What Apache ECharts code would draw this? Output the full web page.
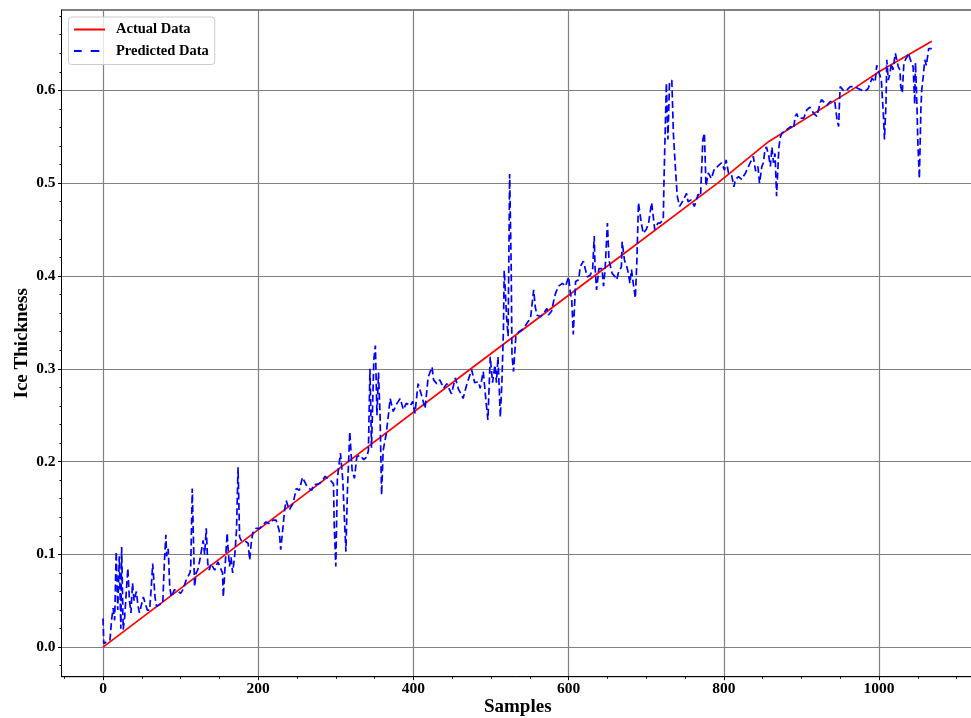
<!DOCTYPE html>
<html>
<head>
<meta charset="utf-8">
<script src="https://cdn.jsdelivr.net/npm/echarts@6/dist/echarts.min.js"></script>
<style>
  html, body { margin: 0; padding: 0; background: #ffffff; }
  #chart { width: 971px; height: 718px; }
</style>
</head>
<body>
<div id="chart"></div>
<script>
// Measured ice thickness, sorted ascending (sample index -> value)
const actualSamples = [0, 158, 316, 474, 633, 792, 858, 964, 1000, 1068];
const actualValues  = [0, 0.1, 0.2, 0.3, 0.4, 0.5, 0.545, 0.6, 0.62, 0.653];

// Model prediction for the same samples
const predSamples = [
  0, 1, 5, 9, 11, 13, 15, 17, 19, 21, 23, 24, 26, 28, 30, 32, 34, 36, 38, 40,
  43, 45, 47, 52, 54, 57, 60, 62, 64, 67, 69, 73, 77, 79, 81, 82, 84, 86, 88, 92,
  97, 100, 103, 107, 112, 113, 115, 118, 120, 122, 125, 129, 131, 133, 135, 137, 139, 144, 148, 150,
  154, 155, 157, 160, 161, 163, 165, 167, 170, 172, 174, 176, 178, 182, 187, 189, 191, 193, 197, 202,
  206, 210, 215, 219, 223, 225, 227, 229, 232, 234, 236, 240, 245, 249, 253, 257, 263, 269, 271, 278,
  282, 286, 293, 295, 297, 298, 300, 302, 306, 309, 311, 313, 315, 318, 321, 324, 327, 331, 336, 340,
  342, 344, 346, 349, 351, 353, 355, 357, 359, 361, 365, 368, 370, 374, 379, 383, 387, 391, 396, 399,
  402, 406, 411, 415, 419, 424, 426, 430, 434, 439, 443, 449, 454, 458, 462, 464, 469, 475, 479, 484,
  486, 490, 492, 494, 496, 499, 502, 505, 507, 509, 512, 514, 516, 517, 518, 520, 522, 524, 526, 527,
  529, 532, 536, 540, 544, 551, 555, 557, 559, 564, 568, 572, 574, 578, 581, 583, 587, 592, 596, 600,
  602, 604, 606, 609, 613, 615, 619, 624, 628, 631, 633, 634, 636, 639, 643, 645, 647, 650, 652, 656,
  660, 662, 664, 668, 669, 672, 675, 677, 679, 681, 683, 686, 688, 690, 693, 696, 700, 703, 707, 711,
  715, 718, 722, 723, 726, 728, 730, 733, 735, 737, 740, 743, 748, 752, 754, 758, 762, 767, 770, 773,
  775, 777, 780, 784, 788, 792, 797, 801, 803, 806, 810, 813, 815, 819, 821, 823, 825, 828, 830, 834,
  838, 841, 844, 846, 849, 851, 853, 855, 858, 860, 862, 864, 866, 868, 871, 873, 875, 879, 886, 890,
  892, 894, 896, 903, 907, 911, 916, 920, 924, 926, 933, 937, 939, 943, 946, 948, 949, 950, 954, 958,
  963, 965, 969, 973, 978, 982, 986, 991, 995, 997, 999, 1003, 1006, 1007, 1009, 1010, 1012, 1014, 1016, 1018,
  1021, 1023, 1025, 1027, 1028, 1030, 1032, 1034, 1036, 1038, 1040, 1042, 1044, 1046, 1047, 1049, 1050, 1052, 1054, 1055,
  1057, 1059, 1061, 1064, 1066, 1068
];
const predValues = [
  0.031, 0.004, 0.006, 0.008, 0.029, 0.042, 0.029, 0.103, 0.040, 0.098, 0.020, 0.108, 0.019, 0.033, 0.060, 0.085, 0.051, 0.037, 0.069, 0.050,
  0.060, 0.045, 0.037, 0.054, 0.054, 0.040, 0.040, 0.062, 0.090, 0.054, 0.044, 0.046, 0.047, 0.090, 0.121, 0.098, 0.106, 0.065, 0.054, 0.062,
  0.060, 0.058, 0.062, 0.072, 0.080, 0.085, 0.171, 0.065, 0.080, 0.083, 0.095, 0.115, 0.100, 0.128, 0.090, 0.083, 0.090, 0.083, 0.092, 0.090,
  0.080, 0.054, 0.083, 0.123, 0.108, 0.087, 0.097, 0.080, 0.101, 0.126, 0.194, 0.119, 0.115, 0.115, 0.112, 0.094, 0.112, 0.123, 0.128, 0.128,
  0.132, 0.135, 0.133, 0.137, 0.137, 0.139, 0.126, 0.105, 0.130, 0.148, 0.158, 0.148, 0.155, 0.171, 0.169, 0.183, 0.173, 0.169, 0.175, 0.176,
  0.178, 0.184, 0.180, 0.182, 0.176, 0.130, 0.087, 0.182, 0.209, 0.180, 0.140, 0.103, 0.170, 0.232, 0.191, 0.182, 0.205, 0.207, 0.202, 0.205,
  0.212, 0.300, 0.215, 0.310, 0.325, 0.250, 0.296, 0.250, 0.164, 0.212, 0.230, 0.252, 0.268, 0.254, 0.263, 0.268, 0.256, 0.263, 0.260, 0.265,
  0.252, 0.284, 0.270, 0.257, 0.291, 0.302, 0.288, 0.284, 0.288, 0.279, 0.284, 0.273, 0.290, 0.278, 0.272, 0.268, 0.284, 0.299, 0.285, 0.286,
  0.279, 0.297, 0.279, 0.261, 0.245, 0.313, 0.285, 0.304, 0.285, 0.313, 0.248, 0.285, 0.342, 0.406, 0.392, 0.356, 0.335, 0.510, 0.410, 0.315,
  0.297, 0.335, 0.340, 0.342, 0.346, 0.355, 0.385, 0.367, 0.358, 0.356, 0.360, 0.365, 0.358, 0.362, 0.374, 0.381, 0.389, 0.392, 0.389, 0.399,
  0.383, 0.374, 0.337, 0.394, 0.396, 0.410, 0.416, 0.399, 0.401, 0.408, 0.443, 0.410, 0.385, 0.408, 0.408, 0.389, 0.407, 0.457, 0.417, 0.403,
  0.399, 0.396, 0.403, 0.410, 0.437, 0.417, 0.410, 0.403, 0.392, 0.407, 0.394, 0.376, 0.417, 0.479, 0.461, 0.446, 0.450, 0.457, 0.479, 0.450,
  0.457, 0.457, 0.461, 0.507, 0.608, 0.547, 0.608, 0.611, 0.554, 0.525, 0.486, 0.475, 0.482, 0.489, 0.480, 0.482, 0.475, 0.488, 0.486, 0.547,
  0.554, 0.497, 0.511, 0.505, 0.516, 0.518, 0.522, 0.514, 0.525, 0.511, 0.509, 0.496, 0.504, 0.507, 0.505, 0.504, 0.507, 0.511, 0.509, 0.522,
  0.529, 0.513, 0.518, 0.500, 0.518, 0.522, 0.536, 0.539, 0.529, 0.518, 0.539, 0.522, 0.532, 0.486, 0.539, 0.550, 0.554, 0.556, 0.561, 0.559,
  0.572, 0.575, 0.570, 0.570, 0.579, 0.582, 0.575, 0.572, 0.586, 0.590, 0.584, 0.588, 0.586, 0.588, 0.568, 0.561, 0.586, 0.604, 0.600, 0.600,
  0.604, 0.606, 0.604, 0.602, 0.600, 0.599, 0.602, 0.613, 0.609, 0.627, 0.622, 0.611, 0.568, 0.547, 0.586, 0.633, 0.611, 0.618, 0.629, 0.622,
  0.640, 0.642, 0.625, 0.622, 0.604, 0.597, 0.629, 0.633, 0.636, 0.640, 0.634, 0.636, 0.625, 0.585, 0.630, 0.580, 0.545, 0.505, 0.580, 0.600,
  0.615, 0.633, 0.627, 0.645, 0.647, 0.645
];

// Tick values
const xMajorTicks = [0, 200, 400, 600, 800, 1000];
const yMajorTicks = [0.0, 0.1, 0.2, 0.3, 0.4, 0.5, 0.6];

const xMinorTicks = [];
for (let v = -50; v <= 1100; v += 50) {
  if (v % 200 !== 0) xMinorTicks.push(v);
}
const yMinorTicks = [];
for (let i = -1; i <= 34; i++) {
  if (i % 5 !== 0) yMinorTicks.push(+(i * 0.02).toFixed(2));
}

const FONT = 'Liberation Serif';
const X_MIN = -53.5, X_MAX = 1122.4;
const Y_MIN = -0.0318, Y_MAX = 0.6866;

const tickFont = { fontFamily: FONT, fontWeight: 'bold', fontSize: 15.5, color: '#000000' };
const titleFont = { fontFamily: FONT, fontWeight: 'bold', fontSize: 19, color: '#000000' };
const gridLine = { show: true, lineStyle: { color: '#808080', width: 1.2 } };
const blackLine = { color: '#000000', width: 1 };

// Legend keys drawn as short line samples inside a 31x14 box
const solidKey  = 'path://M0,0L0,0ZM31,14L31,14ZM0,6.1H31V7.9H0Z';
const dashedKey = 'path://M0,0L0,0ZM31,14L31,14ZM0,6.1H7.7V7.9H0ZM16.7,6.1H25.3V7.9H16.7Z';

const chart = echarts.init(document.getElementById('chart'), null, { renderer: 'canvas' });

chart.setOption({
  animation: false,
  backgroundColor: '#ffffff',
  grid: {
    left: 61.5, right: -3, top: 10, bottom: 41.3,
    outerBoundsMode: 'none',
    containLabel: false,
    show: true, borderColor: '#000000', borderWidth: 1, backgroundColor: 'transparent'
  },
  legend: {
    orient: 'vertical',
    left: 68.5, top: 17,
    padding: [5, 6, 6, 5.5],
    itemGap: 6.5,
    itemWidth: 31, itemHeight: 14,
    backgroundColor: 'rgba(255,255,255,0.8)',
    borderColor: '#cccccc', borderWidth: 1, borderRadius: 3,
    textStyle: { fontFamily: FONT, fontWeight: 'bold', fontSize: 14.5, color: '#000000', padding: [0, 0, 0, 6] },
    data: [
      { name: 'Actual Data', icon: solidKey, itemStyle: { color: '#ff0000' } },
      { name: 'Predicted Data', icon: dashedKey, itemStyle: { color: '#0000ff' } }
    ]
  },
  xAxis: [
    {
      type: 'value', min: X_MIN, max: X_MAX, position: 'bottom',
      axisLine: { show: true, onZero: false, lineStyle: blackLine },
      axisTick: { show: true, inside: false, length: 3.5, customValues: xMajorTicks, lineStyle: blackLine },
      axisLabel: Object.assign({ customValues: xMajorTicks, margin: 4, formatter: v => String(v) }, tickFont),
      splitLine: gridLine,
      name: 'Samples', nameLocation: 'middle', nameGap: 21, nameMoveOverlap: false, nameTextStyle: titleFont
    },
    {
      type: 'value', min: X_MIN, max: X_MAX, position: 'bottom',
      axisLine: { show: false, onZero: false },
      axisTick: { show: true, inside: false, length: 2, customValues: xMinorTicks, lineStyle: blackLine },
      axisLabel: { show: false },
      splitLine: { show: false }
    }
  ],
  yAxis: [
    {
      type: 'value', min: Y_MIN, max: Y_MAX, position: 'left',
      axisLine: { show: true, onZero: false, lineStyle: blackLine },
      axisTick: { show: true, inside: false, length: 3.5, customValues: yMajorTicks, lineStyle: blackLine },
      axisLabel: Object.assign({ customValues: yMajorTicks, margin: 6, formatter: v => v.toFixed(1) }, tickFont),
      splitLine: gridLine,
      name: 'Ice Thickness', nameLocation: 'middle', nameGap: 30, nameRotate: 90, nameMoveOverlap: false, nameTextStyle: titleFont
    },
    {
      type: 'value', min: Y_MIN, max: Y_MAX, position: 'left',
      axisLine: { show: false, onZero: false },
      axisTick: { show: true, inside: false, length: 2, customValues: yMinorTicks, lineStyle: blackLine },
      axisLabel: { show: false },
      splitLine: { show: false }
    }
  ],
  series: [
    {
      name: 'Actual Data', type: 'line', xAxisIndex: 0, yAxisIndex: 0,
      data: actualSamples.map((s, i) => [s, actualValues[i]]),
      symbol: 'none', showSymbol: false, silent: true,
      lineStyle: { color: '#ff0000', width: 1.7 },
      itemStyle: { color: '#ff0000' },
      emphasis: { disabled: true },
      z: 3
    },
    {
      name: 'Predicted Data', type: 'line', xAxisIndex: 0, yAxisIndex: 0,
      data: predSamples.map((s, i) => [s, predValues[i]]),
      symbol: 'none', showSymbol: false, silent: true,
      lineStyle: { color: '#0000ff', width: 1.7, type: [7, 3.5] },
      itemStyle: { color: '#0000ff' },
      emphasis: { disabled: true },
      z: 4
    }
  ]
});
</script>
</body>
</html>
